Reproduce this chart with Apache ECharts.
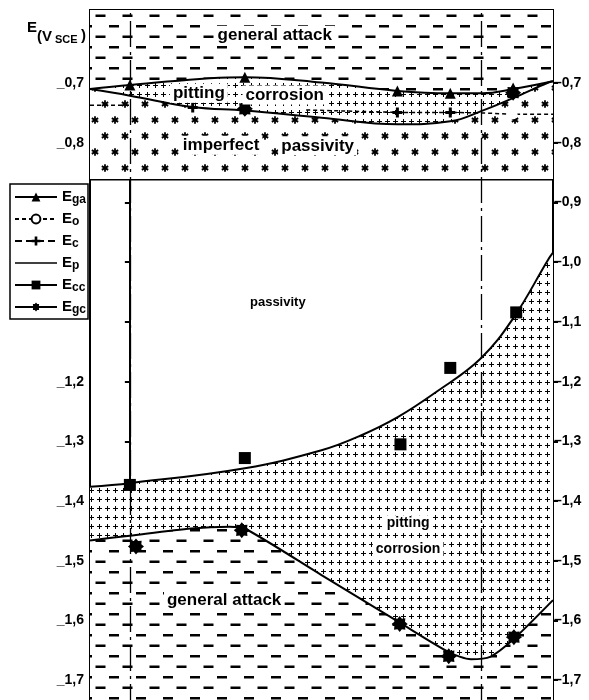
<!DOCTYPE html>
<html><head><meta charset="utf-8">
<script src="https://cdn.jsdelivr.net/npm/echarts@6/dist/echarts.min.js"></script>
<style>html,body{margin:0;padding:0;overflow:hidden;background:#fff}#chart{width:589px;height:720px}</style>
</head><body><div id="chart"></div>
<script>
// ---- axes ----
const xRange = [-0.52, 5.52];
const xTicks = [0, 1, 2, 3, 4, 5];
const yRange = [-1.75, -0.5775];
const yTicks = [-0.7, -0.8, -0.9, -1.0, -1.1, -1.2, -1.3, -1.4, -1.5, -1.6, -1.7];
const leftLabels = [-0.7, -0.8, -1.2, -1.3, -1.4, -1.5, -1.6, -1.7];
const xRefLines = [0, 4.58];
const passivityLimit = -0.862;

// ---- upper domain ----
const egaCurve = [[-0.52, -0.710], [0, -0.703], [1.5, -0.690], [2.5, -0.699], [3.49, -0.713], [4.18, -0.717], [4.6, -0.717], [5.0, -0.710], [5.52, -0.697]];
const egaPoints = [[0, -0.703], [1.5, -0.690], [3.49, -0.713], [4.18, -0.717], [5.0, -0.708]];
const epUpperCurve = [[-0.52, -0.710], [0, -0.721], [0.82, -0.740], [1.5, -0.746], [2.5, -0.758], [3.49, -0.769], [4.18, -0.764], [4.6, -0.746], [5.0, -0.725], [5.46, -0.699], [5.52, -0.697]];
const eoLeft = [[-0.52, -0.737], [0, -0.737]];
const eoRight = [[2.3, -0.745], [3.49, -0.749], [4.18, -0.749], [4.6, -0.750], [5.0, -0.752], [5.52, -0.752]];
const eoPoints = [[5.0, -0.753]];
const ecPoints = [[0.82, -0.741], [1.5, -0.745], [3.49, -0.749], [4.18, -0.749]];
const egcUpperPoints = [[1.5, -0.743], [5.0, -0.716]];

// ---- lower domain ----
const epLowerCurve = [[-0.52, -1.376], [0, -1.370], [1.5, -1.345], [2.5, -1.315], [3.0, -1.291], [3.5, -1.259], [4.0, -1.217], [4.57, -1.162], [5.0, -1.094], [5.46, -0.995], [5.52, -0.984]];
const egcCurve = [[-0.52, -1.466], [0, -1.458], [0.8, -1.446], [1.3, -1.443], [1.5, -1.446], [2.5, -1.524], [3.5, -1.602], [4.16, -1.653], [4.45, -1.665], [4.7, -1.661], [5.0, -1.632], [5.52, -1.566]];
const eccPoints = [[0, -1.373], [1.5, -1.328], [3.53, -1.305], [4.18, -1.177], [5.04, -1.084]];
const egcPoints = [[0.08, -1.476], [1.46, -1.449], [3.52, -1.606], [4.16, -1.660], [5.01, -1.628]];

// ---- region names ----
const bigNames = ['general attack', 'pitting', 'corrosion', 'imperfect', 'passivity', 'general attack'];
const bigSpots = [[1.89, -0.620], [0.90, -0.717], [2.02, -0.720], [1.19, -0.804], [2.45, -0.805], [1.23, -1.566]];
const midNames = ['pitting', 'corrosion'];
const midSpots = [[3.63, -1.437], [3.63, -1.481]];
const smallNames = ['passivity'];
const smallSpots = [[1.93, -1.068]];

const FONT = 'Liberation Sans, Arial, Helvetica, sans-serif';

// fill textures
function makePattern(w, h, draw) {
  const c = document.createElement('canvas');
  c.width = w; c.height = h;
  const g = c.getContext('2d');
  g.fillStyle = '#fff'; g.fillRect(0, 0, w, h);
  g.fillStyle = '#000'; g.strokeStyle = '#000';
  draw(g);
  return { image: c, repeat: 'repeat' };
}
const dashFill = makePattern(27, 21, g => { g.fillRect(1, 4, 10, 2.5); g.fillRect(14.5, 14.5, 10, 2.5); });
const plusFill = makePattern(8, 9, g => { g.fillRect(3, 2, 1, 5); g.fillRect(1, 4, 5, 1); });
function asterisk(g, cx, cy) {
  g.lineWidth = 1.8;
  for (let k = 0; k < 3; k++) {
    const a = Math.PI / 2 + k * Math.PI / 3;
    g.beginPath();
    g.moveTo(cx - 3.7 * Math.cos(a), cy - 3.7 * Math.sin(a));
    g.lineTo(cx + 3.7 * Math.cos(a), cy + 3.7 * Math.sin(a));
    g.stroke();
  }
}
const starFill = makePattern(20, 32, g => { asterisk(g, 5, 8); asterisk(g, 15, 24); });

// marker shapes
function burstPath(n, rIn) {
  let d = '';
  for (let i = 0; i < 2 * n; i++) {
    const r = i % 2 === 0 ? 10 : 10 * rIn;
    const a = Math.PI * i / n - Math.PI / 2;
    d += (i ? 'L' : 'M') + (10 + r * Math.cos(a)).toFixed(2) + ',' + (10 + r * Math.sin(a)).toFixed(2);
  }
  return 'path://' + d + 'Z';
}
const BURST = burstPath(8, 0.72);
const PLUS = 'path://M3.5,0H6.5V3.5H10V6.5H6.5V10H3.5V6.5H0V3.5H3.5Z';

const black = '#000';
const solidBlack = { color: black, opacity: 1 };

function areaLine(name, data, fill, origin, extra) {
  return Object.assign({
    name, type: 'line', data, symbol: 'none', showSymbol: false,
    lineStyle: { color: black, width: 2 }, itemStyle: solidBlack,
    areaStyle: { origin, color: fill, opacity: 1 }, silent: true
  }, extra || {});
}
function textSeries(names, spots, size) {
  return {
    type: 'scatter', name: 'names' + size, silent: true, symbol: 'circle', symbolSize: 1,
    itemStyle: { color: 'rgba(0,0,0,0)', opacity: 1 },
    data: names.map((n, i) => ({ name: n, value: spots[i] })),
    label: { show: true, position: 'inside', formatter: '{b}', color: black, opacity: 1, fontWeight: 'bold',
             fontSize: size, fontFamily: FONT, backgroundColor: '#fff', padding: [1, 3] },
    z: 5
  };
}
const fmt = (pre) => v => pre + Math.abs(v).toFixed(1).replace('.', ',');

const option = {
  animation: false,
  backgroundColor: '#fff',
  grid: { left: 90, right: 36, top: 10, height: 700, show: true, borderColor: black, borderWidth: 2, backgroundColor: 'transparent' },
  xAxis: {
    type: 'value', min: xRange[0], max: xRange[1],
    axisLine: { show: false }, splitLine: { show: false }, axisLabel: { show: false },
    axisTick: { show: true, inside: true, length: 14, customValues: xTicks, lineStyle: { color: black, width: 1.5 } }
  },
  yAxis: [
    {
      type: 'value', min: yRange[0], max: yRange[1], position: 'left',
      axisLine: { show: true, lineStyle: { color: black, width: 2 } }, splitLine: { show: false },
      axisTick: { show: true, length: 5, customValues: yTicks, lineStyle: { color: black, width: 2 } },
      axisLabel: { customValues: leftLabels, formatter: fmt('_'), color: black, fontWeight: 'bold', fontSize: 14, fontFamily: FONT, margin: 6 }
    },
    {
      type: 'value', min: yRange[0], max: yRange[1], position: 'right',
      axisLine: { show: true, lineStyle: { color: black, width: 2 } }, splitLine: { show: false },
      axisTick: { show: true, length: 5, customValues: yTicks, lineStyle: { color: black, width: 2 } },
      axisLabel: { customValues: yTicks, formatter: fmt('–'), color: black, fontWeight: 'bold', fontSize: 14, fontFamily: FONT, margin: 1 }
    }
  ],
  legend: {
    orient: 'vertical', left: 10, top: 184, width: 80,
    backgroundColor: '#fff', borderColor: black, borderWidth: 1.5, borderRadius: 0,
    padding: [4, 2, 3, 4], itemWidth: 42, itemHeight: 11, itemGap: 4, selectedMode: false,
    data: [
      { name: 'Ega' },
      { name: 'Eo' },
      { name: 'Ec', lineStyle: { width: 2, opacity: 1, color: black, type: [7, 4] } },
      { name: 'Ep', itemStyle: { opacity: 0 }, lineStyle: { width: 1.5 } },
      { name: 'Ecc', lineStyle: { width: 2, opacity: 1, color: black, type: 'solid' } },
      { name: 'Egc' }
    ],
    formatter: n => '{e|E}{s|' + n.slice(1) + '}',
    textStyle: {
      color: black, fontFamily: FONT,
      rich: {
        e: { fontSize: 15, fontWeight: 'bold', fontFamily: FONT, color: black, lineHeight: 13 },
        s: { fontSize: 12, fontWeight: 'bold', fontFamily: FONT, color: black, lineHeight: 13, padding: [6, 0, 0, 0] }
      }
    }
  },
  graphic: [
    { type: 'text', left: 27, top: 20, style: { text: 'E', font: 'bold 15px ' + FONT, fill: black } },
    { type: 'text', left: 37, top: 29, style: { text: '(V', font: 'bold 15px ' + FONT, fill: black } },
    { type: 'text', left: 55, top: 34, style: { text: 'SCE', font: 'bold 11px ' + FONT, fill: black } },
    { type: 'text', left: 81, top: 28, style: { text: ')', font: 'bold 15px ' + FONT, fill: black } }
  ],
  series: [
    // imperfect passivity band (up to the limit line)
    areaLine('limit', [[xRange[0], passivityLimit], [xRange[1], passivityLimit]], starFill, 'end', { lineStyle: { color: black, width: 1.5 } }),
    // pitting band in the upper domain
    areaLine('Ep', epUpperCurve, plusFill, 'end', { smooth: 0.4, symbol: 'circle' }),
    // general attack in the upper domain
    areaLine('Ega', egaCurve, dashFill, 'end', { smooth: 0.4, symbol: 'triangle' }),
    // pitting band in the lower domain
    areaLine('Ep', epLowerCurve, plusFill, 'start', { smooth: 0.4, symbol: 'circle' }),
    // general attack in the lower domain
    areaLine('Egc', egcCurve, dashFill, 'start', { smooth: 0.25, symbol: BURST }),
    { name: 'Eo', type: 'line', data: eoLeft, symbol: 'emptyCircle', showSymbol: false, lineStyle: { color: black, width: 1.5, type: [4, 3] }, itemStyle: solidBlack, silent: true },
    { name: 'Eo', type: 'line', data: eoRight, symbol: 'emptyCircle', showSymbol: false, lineStyle: { color: black, width: 1.5, type: [4, 3] }, itemStyle: solidBlack, silent: true },
    { name: 'Eo', type: 'scatter', data: eoPoints, symbol: 'emptyCircle', symbolSize: 7, itemStyle: { color: '#fff', borderColor: black, borderWidth: 1.5, opacity: 1 }, z: 4 },
    { name: 'Ec', type: 'line', data: ecPoints, symbol: PLUS, symbolSize: 10, lineStyle: { width: 0, opacity: 0 }, itemStyle: solidBlack, z: 4 },
    { name: 'Ega', type: 'scatter', data: egaPoints, symbol: 'triangle', symbolSize: 11, itemStyle: solidBlack, z: 4 },
    { name: 'Ecc', type: 'line', data: eccPoints, symbol: 'rect', symbolSize: 12, lineStyle: { width: 0, opacity: 0 }, itemStyle: solidBlack, z: 4 },
    { name: 'Egc', type: 'scatter', data: egcPoints.concat(egcUpperPoints), symbol: BURST, symbolSize: 16, itemStyle: solidBlack, z: 4 },
    textSeries(bigNames, bigSpots, 17),
    textSeries(midNames, midSpots, 14),
    Object.assign(textSeries(smallNames, smallSpots, 13), {
      markLine: {
        silent: true, symbol: ['none', 'none'], label: { show: false },
        lineStyle: { color: black, width: 1.3, type: [26, 5, 3, 5] },
        data: xRefLines.map(v => ({ xAxis: v }))
      }
    })
  ]
};

const chart = echarts.init(document.getElementById('chart'), null, { renderer: 'canvas' });
chart.setOption(option);
</script>
</body></html>
